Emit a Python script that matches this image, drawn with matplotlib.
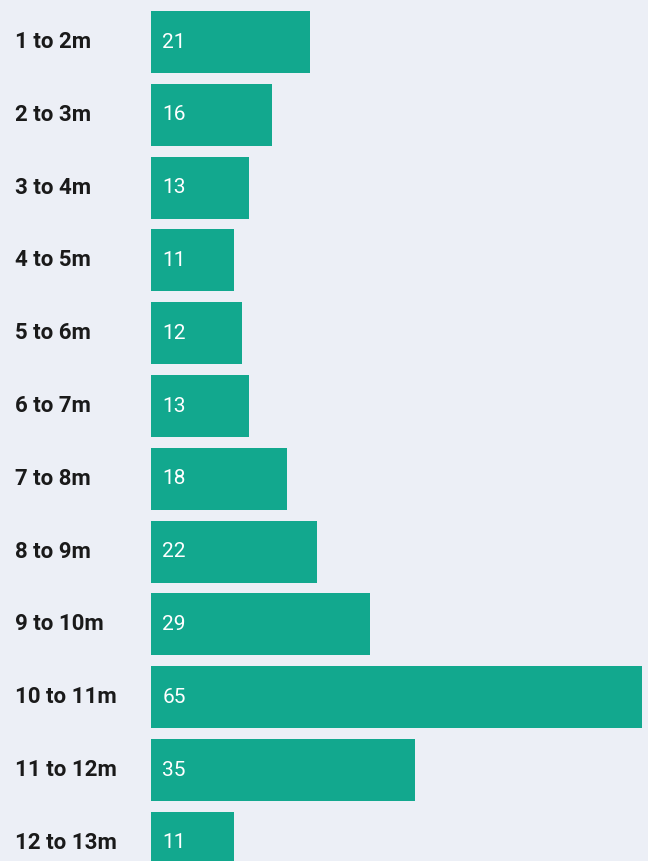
import matplotlib.pyplot as plt

ranges = ["1 to 2m", "2 to 3m", "3 to 4m", "4 to 5m", "5 to 6m", "6 to 7m",
          "7 to 8m", "8 to 9m", "9 to 10m", "10 to 11m", "11 to 12m", "12 to 13m"]
counts = [21, 16, 13, 11, 12, 13, 18, 22, 29, 65, 35, 11]

bg = "#eceff6"
teal = "#12a88e"

fig = plt.figure(figsize=(6.48, 8.61), dpi=100, facecolor=bg)
ax = fig.add_axes([151 / 648, 0, 491 / 648, 1])
ax.set_facecolor(bg)

pos = list(range(len(counts)))
ax.barh(pos, counts, height=0.85, color=teal)
ax.set_xlim(0, 65)
ax.set_ylim(11.25, -0.577)
ax.axis("off")

for y, lab, v in zip(pos, ranges, counts):
    ax.text(-136 / 7.55, y, lab, ha="left", va="center", fontsize=16,
            fontweight="bold", family="Roboto", color="#1a1a1a")
    ax.text(1.5, y, str(v), ha="left", va="center", fontsize=15,
            family="Roboto", color="white")

fig.savefig("out.png", dpi=100, facecolor=bg)
